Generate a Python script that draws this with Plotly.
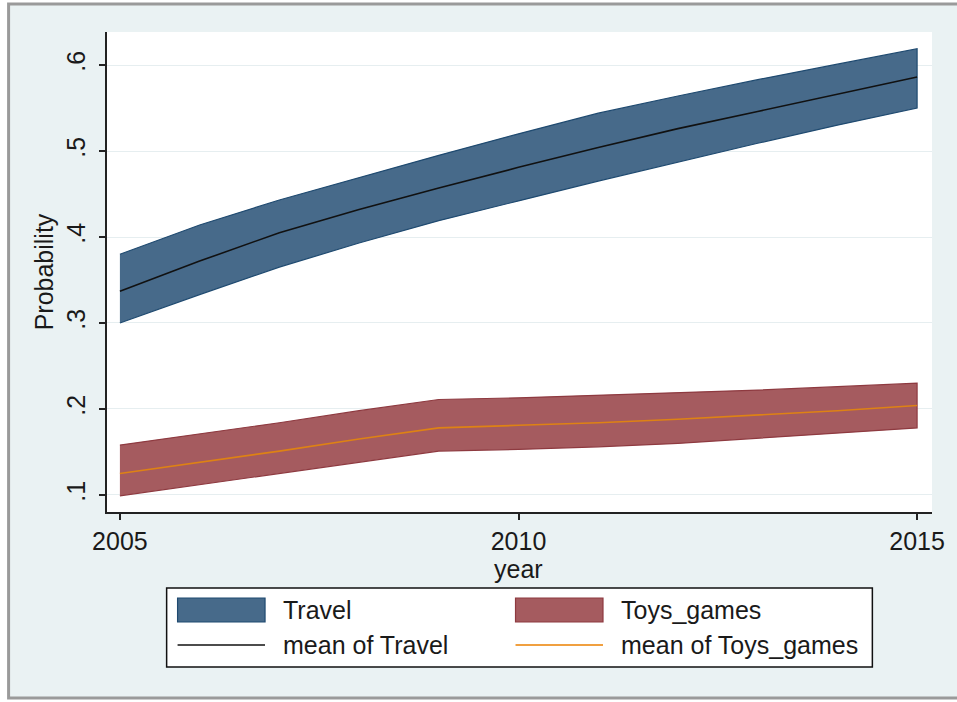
import plotly.graph_objects as go

# Predicted probabilities by year with confidence bands
years = [2005, 2006, 2007, 2008, 2009, 2010, 2011, 2012, 2013, 2014, 2015]

travel_upper = [0.380, 0.414, 0.443, 0.469, 0.495, 0.520, 0.544, 0.564, 0.583, 0.601, 0.619]
travel_mean = [0.337, 0.372, 0.405, 0.432, 0.457, 0.481, 0.504, 0.526, 0.546, 0.566, 0.586]
travel_lower = [0.300, 0.333, 0.365, 0.393, 0.419, 0.442, 0.465, 0.487, 0.509, 0.530, 0.550]

toys_upper = [0.158, 0.171, 0.184, 0.198, 0.211, 0.213, 0.216, 0.219, 0.222, 0.226, 0.230]
toys_mean = [0.125, 0.138, 0.151, 0.165, 0.178, 0.181, 0.184, 0.188, 0.193, 0.198, 0.204]
toys_lower = [0.099, 0.112, 0.125, 0.138, 0.151, 0.153, 0.156, 0.160, 0.166, 0.172, 0.178]

y_ticks = [0.1, 0.2, 0.3, 0.4, 0.5, 0.6]
y_tick_labels = [".1", ".2", ".3", ".4", ".5", ".6"]
x_ticks = [2005, 2010, 2015]

legend_labels = ["Travel", "Toys_games", "mean of Travel", "mean of Toys_games"]
x_title = "year"
y_title = "Probability"

TRAVEL_FILL, TRAVEL_EDGE = "#476a8a", "#1f4a70"
TOYS_FILL, TOYS_EDGE = "#a55b5f", "#8e3a40"
TOYS_MEAN = "#de8214"
BG = "#eaf2f3"
FONT = "Liberation Sans, Arial, sans-serif"
FS = 25
TEXT = "#1a1a1a"

W, H = 957, 702
ML, MR, MT, MB = 107, 20, 32, 190
PW, PH = W - ML - MR, H - MT - MB


def px(x):
    return (x - ML) / PW


def py(y):
    return (H - MB - y) / PH


def band(upper, lower, fill, edge):
    return go.Scatter(
        x=years + years[::-1],
        y=upper + lower[::-1],
        fill="toself",
        fillcolor=fill,
        line=dict(color=edge, width=1.2),
        mode="lines",
        showlegend=False,
        hoverinfo="skip",
    )


fig = go.Figure()
fig.add_trace(band(travel_upper, travel_lower, TRAVEL_FILL, TRAVEL_EDGE))
fig.add_trace(band(toys_upper, toys_lower, TOYS_FILL, TOYS_EDGE))
fig.add_trace(go.Scatter(x=years, y=travel_mean, mode="lines",
                         line=dict(color="#111111", width=1.6), showlegend=False))
fig.add_trace(go.Scatter(x=years, y=toys_mean, mode="lines",
                         line=dict(color=TOYS_MEAN, width=1.6), showlegend=False))

shapes = [
    # outer graph region with window frame
    dict(type="rect", xref="paper", yref="paper", layer="below",
         x0=px(8), x1=px(965), y0=py(698), y1=py(4),
         fillcolor=BG, line=dict(color="#9a9a9a", width=3)),
    # white plot region
    dict(type="rect", xref="paper", yref="paper", layer="below",
         x0=0, x1=1, y0=0, y1=1,
         fillcolor="white", line=dict(width=0)),
    # legend box
    dict(type="rect", xref="paper", yref="paper",
         x0=px(167), x1=px(877), y0=py(667), y1=py(588),
         fillcolor="white", line=dict(color="#111111", width=1.5)),
    # legend swatches
    dict(type="rect", xref="paper", yref="paper",
         x0=px(178), x1=px(266), y0=py(622), y1=py(598),
         fillcolor=TRAVEL_FILL, line=dict(color=TRAVEL_EDGE, width=1.2)),
    dict(type="rect", xref="paper", yref="paper",
         x0=px(518), x1=px(606), y0=py(622), y1=py(598),
         fillcolor=TOYS_FILL, line=dict(color=TOYS_EDGE, width=1.2)),
    dict(type="line", xref="paper", yref="paper",
         x0=px(178), x1=px(266), y0=py(645), y1=py(645),
         line=dict(color="#111111", width=1.6)),
    dict(type="line", xref="paper", yref="paper",
         x0=px(518), x1=px(606), y0=py(645), y1=py(645),
         line=dict(color="#f0a040", width=1.8)),
]

legend_pos = [(282, 610), (622, 610), (282, 645), (622, 645)]
annotations = [
    dict(text=t, xref="paper", yref="paper", x=px(x), y=py(y),
         xanchor="left", yanchor="middle", showarrow=False,
         font=dict(family=FONT, size=FS, color=TEXT))
    for t, (x, y) in zip(legend_labels, legend_pos)
]
# x-axis title sits tight under the tick labels
annotations.append(dict(text=x_title, xref="x", yref="paper", x=x_ticks[1], y=py(569),
                        xanchor="center", yanchor="middle", showarrow=False, borderpad=0,
                        font=dict(family=FONT, size=FS, color=TEXT)))

fig.update_layout(
    width=W, height=H,
    margin=dict(l=ML, r=MR, t=MT, b=MB, pad=0),
    paper_bgcolor="white",
    plot_bgcolor="white",
    font=dict(family=FONT, size=FS, color=TEXT),
    shapes=shapes,
    annotations=annotations,
    showlegend=False,
)

fig.update_xaxes(
    range=[2004.838, 2015.187],
    tickvals=x_ticks,
    ticks="outside", ticklen=6, tickwidth=1.5, tickcolor="#222222",
    showline=True, linecolor="#222222", linewidth=1.5,
    showgrid=False, zeroline=False,
    tickfont=dict(size=FS),
)
fig.update_yaxes(
    range=[0.0802, 0.6384],
    tickvals=y_ticks, ticktext=y_tick_labels, tickangle=-90,
    ticks="outside", ticklen=6, tickwidth=1.5, tickcolor="#222222",
    ticklabelstandoff=4,
    showline=True, linecolor="#222222", linewidth=1.5,
    showgrid=True, gridcolor="#e6eef0", gridwidth=1.2,
    zeroline=False,
    title=dict(text=y_title, standoff=2, font=dict(size=FS)),
    tickfont=dict(size=FS),
)

fig.write_html("out.html")
